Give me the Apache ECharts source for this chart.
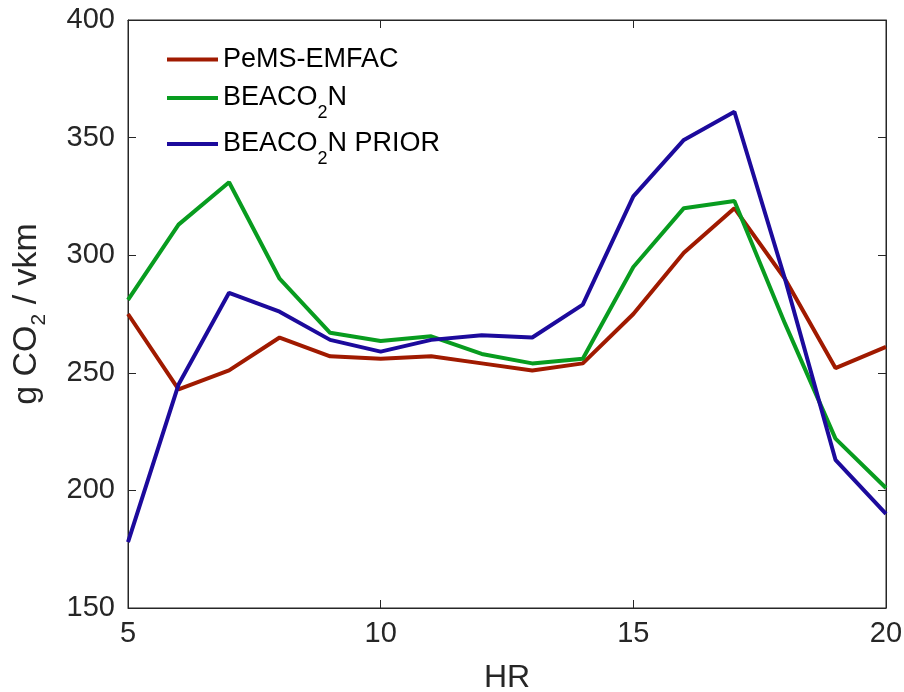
<!DOCTYPE html>
<html>
<head>
<meta charset="utf-8">
<script src="https://cdn.jsdelivr.net/npm/echarts@6/dist/echarts.min.js"></script>
<style>
  html, body { margin: 0; padding: 0; background: #fff; }
  #chart { width: 904px; height: 692px; }
</style>
</head>
<body>
<div id="chart"></div>
<script>
// hours of day
const hours = [5, 6, 7, 8, 9, 10, 11, 12, 13, 14, 15, 16, 17, 18, 19, 20]

const pemsEmfac = [275, 243, 251, 265, 257, 256, 257, 254, 251, 254, 275, 301, 320, 290, 252, 261]
const beacon = [281, 313, 331, 290, 267, 263.5, 265.5, 258, 254, 256, 295, 320, 323, 271, 222, 201]
const beaconPrior = [178, 245, 284, 276, 264, 259, 264, 266, 265, 279, 325, 349, 361, 290, 213, 190]

const xTicks = [5, 10, 15, 20]
const yTicks = [150, 200, 250, 300, 350, 400]

const font = 'Liberation Sans'
const ink = '#262626'

function pairs(vals) {
  return hours.map((h, i) => [h, vals[i]])
}

const chart = echarts.init(document.getElementById('chart'))

// legend text: main glyphs centred on the line, subscript pushed down
const legendRich = {
  n: { fontSize: 27, fontFamily: font, color: '#000', lineHeight: 50 },
  s: { fontSize: 18, fontFamily: font, color: '#000', lineHeight: 18, padding: [30, 0, 0, 0] }
}

function legendAt(name, top) {
  return {
    orient: 'vertical',
    left: 162, top: top,
    itemWidth: 51, itemHeight: 4,
    icon: 'rect',
    data: [name],
    formatter: function (n) {
      if (n === 'PeMS-EMFAC') return '{n|PeMS-EMFAC}'
      if (n === 'BEACO2N') return '{n|BEACO}{s|2}{n|N}'
      return '{n|BEACO}{s|2}{n|N PRIOR}'
    },
    textStyle: { rich: legendRich }
  }
}

let option = {
  animation: false,
  backgroundColor: '#fff',
  grid: {
    left: 128, right: 18, top: 20, bottom: 84,
    outerBoundsMode: 'none', containLabel: false,
    show: true, borderColor: ink, borderWidth: 1
  },
  legend: [
    legendAt('PeMS-EMFAC', 41),
    legendAt('BEACO2N', 69),
    legendAt('BEACO2N PRIOR', 115)
  ],
  xAxis: [
    {
      type: 'value', min: 5, max: 20, interval: 5,
      name: 'HR', nameLocation: 'middle', nameGap: 54,
      nameTextStyle: { fontSize: 32, fontFamily: font, color: ink },
      axisLine: { lineStyle: { color: ink } },
      axisTick: { inside: true, length: 8, lineStyle: { color: ink } },
      axisLabel: {
        fontSize: 29, fontFamily: font, color: ink, margin: 11,
        formatter: v => xTicks.includes(v) ? String(v) : ''
      },
      splitLine: { show: false }
    },
    {
      type: 'value', min: 5, max: 20, interval: 5, position: 'top',
      axisLine: { lineStyle: { color: ink } },
      axisTick: { inside: true, length: 8, lineStyle: { color: ink } },
      axisLabel: { show: false },
      splitLine: { show: false }
    }
  ],
  yAxis: [
    {
      type: 'value', min: 150, max: 400, interval: 50,
      name: '{n|g CO}{s|2}{n| / vkm}', nameLocation: 'middle', nameGap: 78, nameRotate: 90,
      nameTextStyle: {
        rich: {
          n: { fontSize: 34, fontFamily: font, color: ink, lineHeight: 46 },
          s: { fontSize: 21, fontFamily: font, color: ink, lineHeight: 21, padding: [24, 0, 0, 0] }
        }
      },
      axisLine: { lineStyle: { color: ink } },
      axisTick: { inside: true, length: 8, lineStyle: { color: ink } },
      axisLabel: {
        fontSize: 29, fontFamily: font, color: ink, margin: 13,
        formatter: v => yTicks.includes(v) ? String(v) : ''
      },
      splitLine: { show: false }
    },
    {
      type: 'value', min: 150, max: 400, interval: 50, position: 'right',
      axisLine: { lineStyle: { color: ink } },
      axisTick: { inside: true, length: 8, lineStyle: { color: ink } },
      axisLabel: { show: false },
      splitLine: { show: false }
    }
  ],
  series: [
    {
      name: 'PeMS-EMFAC', type: 'line', data: pairs(pemsEmfac),
      showSymbol: false, color: '#a01a00',
      lineStyle: { width: 4, color: '#a01a00' }
    },
    {
      name: 'BEACO2N', type: 'line', data: pairs(beacon),
      showSymbol: false, color: '#089c1f',
      lineStyle: { width: 4, color: '#089c1f' }
    },
    {
      name: 'BEACO2N PRIOR', type: 'line', data: pairs(beaconPrior),
      showSymbol: false, color: '#1c0a9c',
      lineStyle: { width: 4, color: '#1c0a9c' }
    }
  ]
}

chart.setOption(option)
</script>
</body>
</html>
